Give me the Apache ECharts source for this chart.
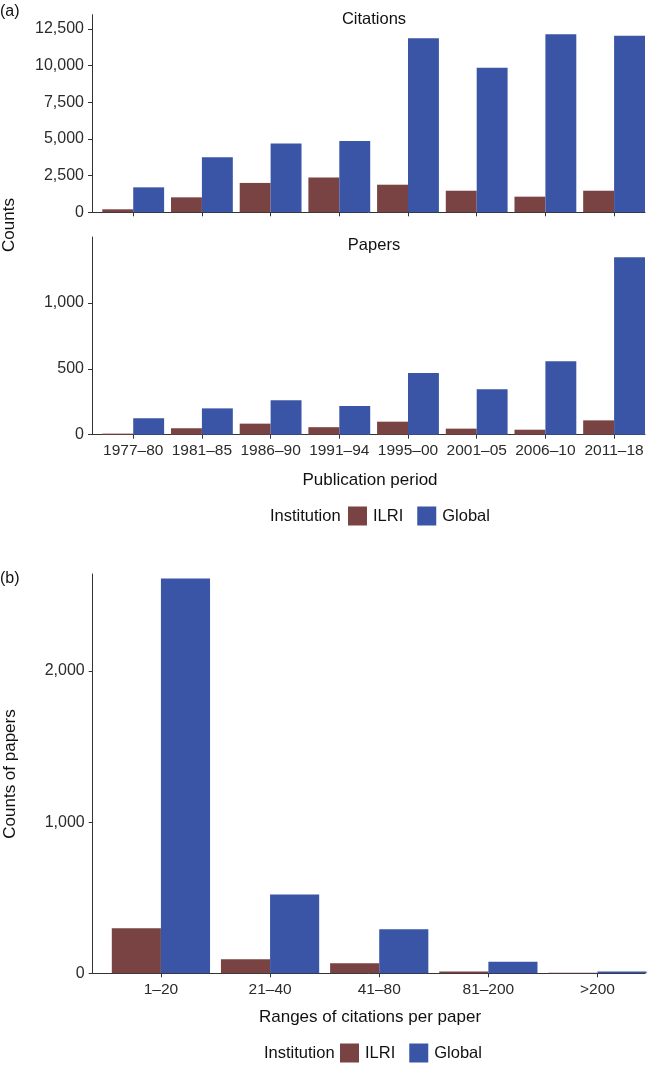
<!DOCTYPE html>
<html><head><meta charset="utf-8">
<script src="https://cdn.jsdelivr.net/npm/echarts@6/dist/echarts.min.js"></script>
<style>html,body{margin:0;padding:0;background:#fff}#c{width:648px;height:1065px}</style>
</head><body><div id="c"></div>
<script>
const periods = ['1977–80','1981–85','1986–90','1991–94','1995–00','2001–05','2006–10','2011–18'];
const citationsILRI = [204,1020,2000,2370,1880,1470,1065,1470];
const citationsGlobal = [1700,3750,4680,4850,11860,9850,12130,12030];
const papersILRI = [8,49,84,57,99,46,38,109];
const papersGlobal = [125,200,261,218,469,345,558,1348];
const ranges = ['1–20','21–40','41–80','81–200','>200'];
const rangesILRI = [298,93,66,12,3];
const rangesGlobal = [2612,522,291,77,12];
const citationTicks = [0,2500,5000,7500,10000,12500];
const paperTicks = [0,500,1000];
const rangeTicks = [0,1000,2000];

const FONT = '"Liberation Sans", Arial, sans-serif';
const C_ILRI = '#7a4343';
const C_GLOBAL = '#3a55a5';
const AX = '#333';

const pos = arr => arr.map((v, i) => [i + 1, v]);
const fmt = v => Number(v).toLocaleString('en-US');

function xAxis(gridIndex, cats, min, max, showLabels) {
  return {
    type: 'value', gridIndex, min, max,
    splitLine: {show: false},
    axisLine: {show: true, lineStyle: {color: AX, width: 1}},
    axisTick: {show: true, length: 4, customValues: cats.map((c, i) => i + 1), lineStyle: {color: AX}},
    axisLabel: {show: showLabels, customValues: cats.map((c, i) => i + 1), margin: 8,
      formatter: v => cats[Math.round(v) - 1] || '', color: '#2b2b2b', fontSize: 15.5, fontFamily: FONT}
  };
}
function yAxis(gridIndex, max, ticks) {
  return {
    type: 'value', gridIndex, min: 0, max,
    splitLine: {show: false},
    axisLine: {show: true, lineStyle: {color: AX, width: 1}},
    axisTick: {show: true, length: 4, customValues: ticks, lineStyle: {color: AX}},
    axisLabel: {customValues: ticks, margin: 8, formatter: fmt, color: '#2b2b2b', fontSize: 16, fontFamily: FONT}
  };
}
function bars(name, data, color, idx) {
  return {
    type: 'bar', name, data, xAxisIndex: idx, yAxisIndex: idx,
    barWidth: '45%', barGap: '0%',
    itemStyle: {color}, emphasis: {disabled: true}
  };
}
function txt(x, y, text, size, align, rotation) {
  return {
    type: 'text', x, y, rotation: rotation || 0,
    style: {text, fill: '#111', font: size + 'px ' + FONT, textAlign: align || 'left', textVerticalAlign: 'middle'}
  };
}
const legendBase = {
  itemWidth: 19, itemHeight: 19, itemGap: 14, icon: 'rect', padding: 0,
  data: ['ILRI','Global'], selectedMode: false,
  textStyle: {fontSize: 16.5, fontFamily: FONT, color: '#111', padding: [0,0,0,1]}
};

const chart = echarts.init(document.getElementById('c'), null, {renderer: 'canvas'});
chart.setOption({
  animation: false,
  backgroundColor: '#fff',
  grid: [
    {left: 92, width: 553, top: 14.7, height: 197.6},
    {left: 92, width: 553, top: 237, height: 197.7},
    {left: 92.7, width: 552.3, top: 574, height: 399.3}
  ],
  xAxis: [
    xAxis(0, periods, 0.4, 8.45, false),
    xAxis(1, periods, 0.4, 8.45, true),
    xAxis(2, ranges, 0.375, 5.435, true)
  ],
  yAxis: [
    yAxis(0, 13460, citationTicks),
    yAxis(1, 1502, paperTicks),
    yAxis(2, 2641, rangeTicks)
  ],
  legend: [
    Object.assign({left: 348, top: 506.5}, legendBase),
    Object.assign({left: 340, top: 1043.5}, legendBase)
  ],
  series: [
    bars('ILRI', pos(citationsILRI), C_ILRI, 0),
    bars('Global', pos(citationsGlobal), C_GLOBAL, 0),
    bars('ILRI', pos(papersILRI), C_ILRI, 1),
    bars('Global', pos(papersGlobal), C_GLOBAL, 1),
    bars('ILRI', pos(rangesILRI), C_ILRI, 2),
    bars('Global', pos(rangesGlobal), C_GLOBAL, 2)
  ],
  graphic: [
    txt(0, 12, '(a)', 16),
    txt(0, 579, '(b)', 16),
    txt(374, 19, 'Citations', 16.5, 'center'),
    txt(374, 245, 'Papers', 16.5, 'center'),
    txt(370, 480, 'Publication period', 17, 'center'),
    txt(370, 1017, 'Ranges of citations per paper', 17, 'center'),
    txt(9, 225, 'Counts', 17, 'center', Math.PI / 2),
    txt(10, 774, 'Counts of papers', 17, 'center', Math.PI / 2),
    txt(270, 516, 'Institution', 16.5),
    txt(264, 1053, 'Institution', 16.5)
  ]
});
</script></body></html>
